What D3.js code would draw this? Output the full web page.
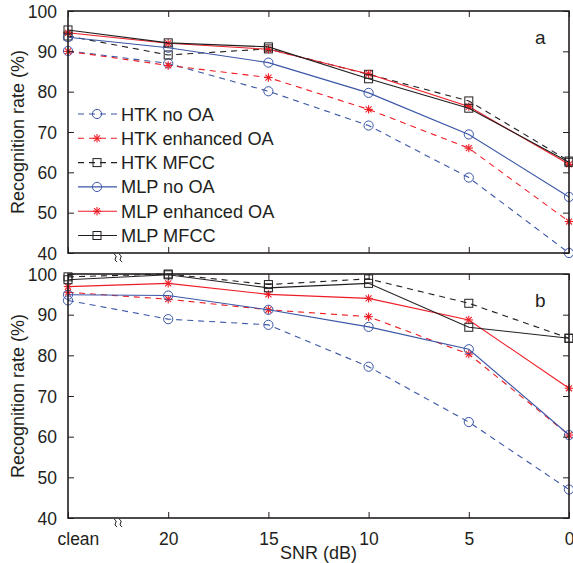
<!DOCTYPE html>
<html>
<head>
<meta charset="utf-8">
<script src="https://cdn.jsdelivr.net/npm/d3@7"></script>
<style>
  body { margin: 0; background: #fff; }
  svg text { font-family: "Liberation Sans", Arial, sans-serif; fill: #231f20; }
</style>
</head>
<body>
<main></main>
<script>
const snr = ['clean', '20', '15', '10', '5', '0'];
const yTicks = [40, 50, 60, 70, 80, 90, 100];

// panel a
const htkNoOA_a = [90.1, 87.0, 80.1, 71.6, 58.7, 40.0];
const htkEnh_a = [90.0, 86.5, 83.5, 75.6, 66.0, 47.8];
const htkMfcc_a = [93.8, 89.1, 90.6, 84.3, 77.7, 62.8];
const mlpNoOA_a = [93.5, 90.9, 87.2, 79.7, 69.4, 53.9];
const mlpEnh_a = [94.6, 92.0, 90.5, 84.4, 76.3, 62.0];
const mlpMfcc_a = [95.3, 92.1, 91.1, 83.2, 75.9, 62.5];

// panel b
const htkNoOA_b = [93.5, 88.9, 87.5, 77.2, 63.6, 47.0];
const htkEnh_b = [95.5, 93.8, 91.2, 89.5, 80.3, 60.4];
const htkMfcc_b = [99.3, 100.0, 97.4, 98.8, 92.8, 84.2];
const mlpNoOA_b = [94.9, 94.7, 91.2, 87.0, 81.5, 60.4];
const mlpEnh_b = [96.9, 97.7, 95.0, 94.0, 88.7, 71.9];
const mlpMfcc_b = [98.6, 99.8, 96.6, 97.7, 86.9, 84.2];

const names = ['HTK no OA', 'HTK enhanced OA', 'HTK MFCC', 'MLP no OA', 'MLP enhanced OA', 'MLP MFCC'];

const blue = '#3a56a6', red = '#ee1c25', black = '#231f20';
const styles = [
  { color: blue, dash: '6,5', marker: 'circle' },
  { color: red, dash: '6,5', marker: 'star' },
  { color: black, dash: '6,5', marker: 'square' },
  { color: blue, dash: null, marker: 'circle' },
  { color: red, dash: null, marker: 'star' },
  { color: black, dash: null, marker: 'square' },
];

const panels = [
  { label: 'a', top: 11, bottom: 253, series: [htkNoOA_a, htkEnh_a, htkMfcc_a, mlpNoOA_a, mlpEnh_a, mlpMfcc_a] },
  { label: 'b', top: 274, bottom: 518, series: [htkNoOA_b, htkEnh_b, htkMfcc_b, mlpNoOA_b, mlpEnh_b, mlpMfcc_b] },
];

const W = 573, H = 563;
const left = 68, right = 569;

const svg = d3.select('main').append('svg')
  .attr('width', W).attr('height', H);

const x = d3.scalePoint().domain(snr).range([left, right]);

function drawMarker(g, type, cx, cy, color) {
  if (type == 'circle') {
    g.append('circle').attr('cx', cx).attr('cy', cy).attr('r', 4.6)
      .attr('fill', 'none').attr('stroke', color).attr('stroke-width', 1);
  } else if (type == 'square') {
    g.append('rect').attr('x', cx - 4).attr('y', cy - 4).attr('width', 8).attr('height', 8)
      .attr('fill', 'none').attr('stroke', color).attr('stroke-width', 1);
  } else {
    // asterisk
    const r = 4.2;
    for (let a = 0; a < 4; a++) {
      const ang = a * Math.PI / 4;
      g.append('line')
        .attr('x1', cx - r * Math.cos(ang)).attr('y1', cy - r * Math.sin(ang))
        .attr('x2', cx + r * Math.cos(ang)).attr('y2', cy + r * Math.sin(ang))
        .attr('stroke', color).attr('stroke-width', 1.1);
    }
  }
}

panels.forEach(function (p) {
  const y = d3.scaleLinear().domain([40, 100]).range([p.bottom, p.top]);
  const g = svg.append('g');

  // lines
  const line = d3.line().x((d, i) => x(snr[i])).y(d => y(d));
  p.series.forEach(function (vals, k) {
    const st = styles[k];
    g.append('path')
      .attr('d', line(vals))
      .attr('fill', 'none')
      .attr('stroke', st.color)
      .attr('stroke-width', 1.1)
      .attr('stroke-dasharray', st.dash);
    vals.forEach(function (v, i) {
      drawMarker(g, st.marker, x(snr[i]), y(v), st.color);
    });
  });

  // axes
  const yl = g.append('g').attr('transform', 'translate(' + left + ',0)')
    .call(d3.axisLeft(y).tickValues(yTicks).tickSize(-6).tickPadding(11));
  const yr = g.append('g').attr('transform', 'translate(' + right + ',0)')
    .call(d3.axisRight(y).tickValues(yTicks).tickSize(-6).tickFormat(''));
  const xt = g.append('g').attr('transform', 'translate(0,' + p.top + ')')
    .call(d3.axisTop(x).tickSize(-6).tickFormat(''));
  const xb = g.append('g').attr('transform', 'translate(0,' + p.bottom + ')')
    .call(d3.axisBottom(x).tickSize(-6).tickPadding(14)
      .tickFormat(p.label == 'b' ? null : ''));
  [yl, yr, xt, xb].forEach(function (a) {
    a.selectAll('.domain').remove();
    a.selectAll('line').attr('stroke', black).attr('stroke-width', 1);
    a.selectAll('text').attr('font-size', 17.5).attr('fill', black);
  });
  yl.selectAll('text').attr('dy', '0.36em');
  xb.selectAll('text').attr('dy', '0.75em');
  if (p.label == 'b') {
    xb.selectAll('text').filter(d => d == 'clean').attr('text-anchor', 'start').attr('dx', -11);
  }

  g.append('rect')
    .attr('x', left).attr('y', p.top)
    .attr('width', right - left).attr('height', p.bottom - p.top)
    .attr('fill', 'none').attr('stroke', black).attr('stroke-width', 1.6);

  // axis break mark
  const bx = (x(snr[0]) + x(snr[1])) / 2;
  [-2.5, 2.5].forEach(function (off) {
    const cx = bx + off, cy = p.bottom + 5;
    g.append('path')
      .attr('d', 'M' + (cx - 1.5) + ',' + (cy - 4) + ' Q' + (cx + 2) + ',' + (cy - 2) + ' ' + cx + ',' + cy +
        ' T' + (cx + 1.5) + ',' + (cy + 4))
      .attr('fill', 'none').attr('stroke', black).attr('stroke-width', 1);
  });

  g.append('text')
    .attr('x', 535).attr('y', p.top + 33)
    .attr('font-size', 19)
    .text(p.label);

  g.append('text')
    .attr('transform', 'translate(24,' + (p.top + p.bottom) / 2 + ') rotate(-90)')
    .attr('text-anchor', 'middle')
    .attr('font-size', 18)
    .text('Recognition rate (%)');
});

// x label
svg.append('text')
  .attr('x', (left + right) / 2).attr('y', 559)
  .attr('text-anchor', 'middle')
  .attr('font-size', 18)
  .text('SNR (dB)');

// legend
const legend = svg.append('g');
names.forEach(function (n, k) {
  const st = styles[k];
  const ly = 114 + k * 24.3;
  legend.append('line')
    .attr('x1', 78).attr('x2', 117).attr('y1', ly).attr('y2', ly)
    .attr('stroke', st.color).attr('stroke-width', 1.1)
    .attr('stroke-dasharray', st.dash);
  drawMarker(legend, st.marker, 97, ly, st.color);
  legend.append('text')
    .attr('x', 121).attr('y', ly).attr('dy', '0.36em')
    .attr('font-size', 18.2)
    .text(n);
});
</script>
</body>
</html>
